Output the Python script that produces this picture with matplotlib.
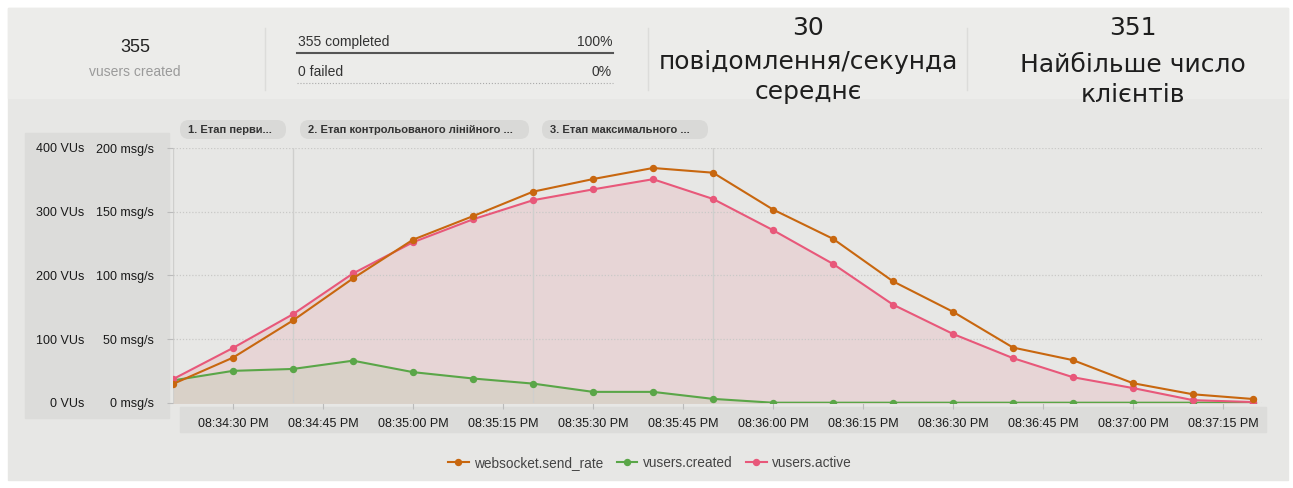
import pandas as pd
import matplotlib
matplotlib.use("Agg")
import matplotlib.pyplot as plt
import matplotlib.dates as mdates
from matplotlib.patches import Rectangle, FancyBboxPatch

# data (10 s buckets)
times = ["20:34:20", "20:34:30", "20:34:40", "20:34:50", "20:35:00", "20:35:10",
         "20:35:20", "20:35:30", "20:35:40", "20:35:50", "20:36:00", "20:36:10",
         "20:36:20", "20:36:30", "20:36:40", "20:36:50", "20:37:00", "20:37:10",
         "20:37:20"]
send_rate = [14.7, 35.4, 64.6, 97.6, 128, 146.5, 165.7, 175.6, 184.3, 180.6,
             151.7, 128.7, 95.3, 71.4, 43.3, 33.4, 15.3, 6.6, 2.9]          # msg/s
vusers_created = [35, 50, 53, 66, 48, 38, 30, 17, 17, 6, 0, 0, 0, 0, 0, 0, 0, 0, 0]
vusers_active = [37, 86, 139, 203, 252, 288, 318, 335, 351, 320, 271, 218, 154,
                 108, 70, 40, 23, 4, 1]

stage_starts = ["20:34:20", "20:34:40", "20:35:20", "20:35:50"]
stage_names = ["1. Етап перви...", "2. Етап контрольованого лінійного ...",
               "3. Етап максимального ..."]

vu_ticks = [0, 100, 200, 300, 400]
rate_ticks = [0, 50, 100, 150, 200]

t = pd.to_datetime(times, format="%H:%M:%S")
stages = pd.to_datetime(stage_starts, format="%H:%M:%S")

W, H = 1293, 488
fig = plt.figure(figsize=(W / 100, H / 100), dpi=100)
fig.patch.set_facecolor("white")
plt.rcParams["font.family"] = ["Liberation Sans", "DejaVu Sans"]

# background layer in pixel coords
bg = fig.add_axes([0, 0, 1, 1])
bg.set_xlim(0, W)
bg.set_ylim(H, 0)
bg.axis("off")
bg.add_patch(Rectangle((8, 8), 1280, 472, color="#e7e7e5", zorder=0))
bg.add_patch(Rectangle((8, 8), 1280, 90, color="#ececea", zorder=0))
bg.add_patch(Rectangle((25, 133), 144, 285, color="#dcdcda", zorder=1))
bg.add_patch(Rectangle((180, 407), 1086, 25, color="#dcdcda", zorder=1))
for x in [265, 648, 967]:
    bg.plot([x, x], [28, 90], color="#dcdcda", lw=1)

# header
bg.text(135, 48, "355", ha="center", va="center", fontsize=13, color="#222")
bg.text(135, 72, "vusers created", ha="center", va="center", fontsize=10, color="#9a9a9a")
bg.text(298, 42, "355 completed", ha="left", va="center", fontsize=10, color="#333")
bg.text(612, 42, "100%", ha="right", va="center", fontsize=10, color="#333")
bg.plot([297, 613], [53, 53], color="#555", lw=1.5)
bg.text(298, 72, "0 failed", ha="left", va="center", fontsize=10, color="#333")
bg.text(612, 72, "0%", ha="right", va="center", fontsize=10, color="#333")
bg.plot([297, 613], [83, 83], color="#aaa", lw=0.8, ls=":")
big = dict(ha="center", va="center", fontsize=18, color="#1e1e1e", family="DejaVu Sans")
bg.text(808, 28, "30", **big)
bg.text(808, 62, "повідомлення/секунда", **big)
bg.text(808, 92, "середнє", **big)
bg.text(1133, 28, "351", **big)
bg.text(1133, 65, "Найбільше число", **big)
bg.text(1133, 95, "клієнтів", **big)

# stage pills
pills = [(178, 288), (298, 531), (540, 710)]
for (x0, x1), name in zip(pills, stage_names):
    bg.add_patch(FancyBboxPatch((x0 + 2, 120), x1 - x0 - 4, 19,
                                boxstyle="round,pad=0,rounding_size=9",
                                fc="#d9d9d7", ec="none", zorder=2))
    bg.text(x0 + 10, 130, name, ha="left", va="center", fontsize=8,
            color="#333", fontweight="bold", zorder=3)

# main chart
ax = fig.add_axes([173 / W, (H - 402.7) / H, (1262 - 173) / W, (402.7 - 148) / H])
ax.patch.set_alpha(0)
orange, green, pink = "#c8670f", "#5aa648", "#e8587a"
rate_vu = [v * 2 for v in send_rate]

ax.fill_between(t, vusers_active, color="#e8d3d5", alpha=0.9, zorder=1)
ax.fill_between(t, vusers_created, color="#d9d1c8", zorder=2)
for s in stages:
    ax.axvline(s, color="#cfcfcd", lw=1, zorder=2)
ax.plot(t, rate_vu, color=orange, lw=1.5, marker="o", ms=4.3, zorder=5, label="websocket.send_rate")
ax.plot(t, vusers_created, color=green, lw=1.5, marker="o", ms=4.3, zorder=4, label="vusers.created")
ax.plot(t, vusers_active, color=pink, lw=1.5, marker="o", ms=4.3, zorder=4, label="vusers.active")

ax.set_xlim(t[0], t[0] + pd.Timedelta(seconds=181.5))
ax.set_ylim(0, 400)
ax.xaxis.set_major_locator(mdates.SecondLocator(bysecond=[0, 15, 30, 45]))
ax.xaxis.set_major_formatter(mdates.DateFormatter("%I:%M:%S %p"))
ax.tick_params(axis="x", length=4, color="#bbb", pad=7, labelsize=9, labelcolor="#1a1a1a")
ax.set_yticks(vu_ticks)
ax.set_yticklabels([f"{v} VUs" for v in vu_ticks])
ax.tick_params(axis="y", length=0, pad=64, labelsize=9, labelcolor="#1a1a1a")
ax.grid(axis="y", color="#c9c9c7", ls=(0, (1, 1.5)), lw=0.9)
for sp in ax.spines.values():
    sp.set_visible(False)

ax2 = ax.twinx()
ax2.set_ylim(0, 200)
ax2.yaxis.tick_left()
ax2.set_yticks(rate_ticks)
ax2.set_yticklabels([f"{v} msg/s" for v in rate_ticks])
ax2.tick_params(axis="y", length=4, color="#bbb", pad=10, labelsize=9, labelcolor="#1a1a1a")
for sp in ax2.spines.values():
    sp.set_visible(False)

leg = fig.legend(*ax.get_legend_handles_labels(), loc="center", ncol=3, frameon=False,
                 bbox_to_anchor=(650 / W, 1 - 463 / H), fontsize=9.8, handlelength=1.5,
                 columnspacing=1.0, handletextpad=0.4)
for txt in leg.get_texts():
    txt.set_color("#444")

fig.savefig("out.png", dpi=100)
